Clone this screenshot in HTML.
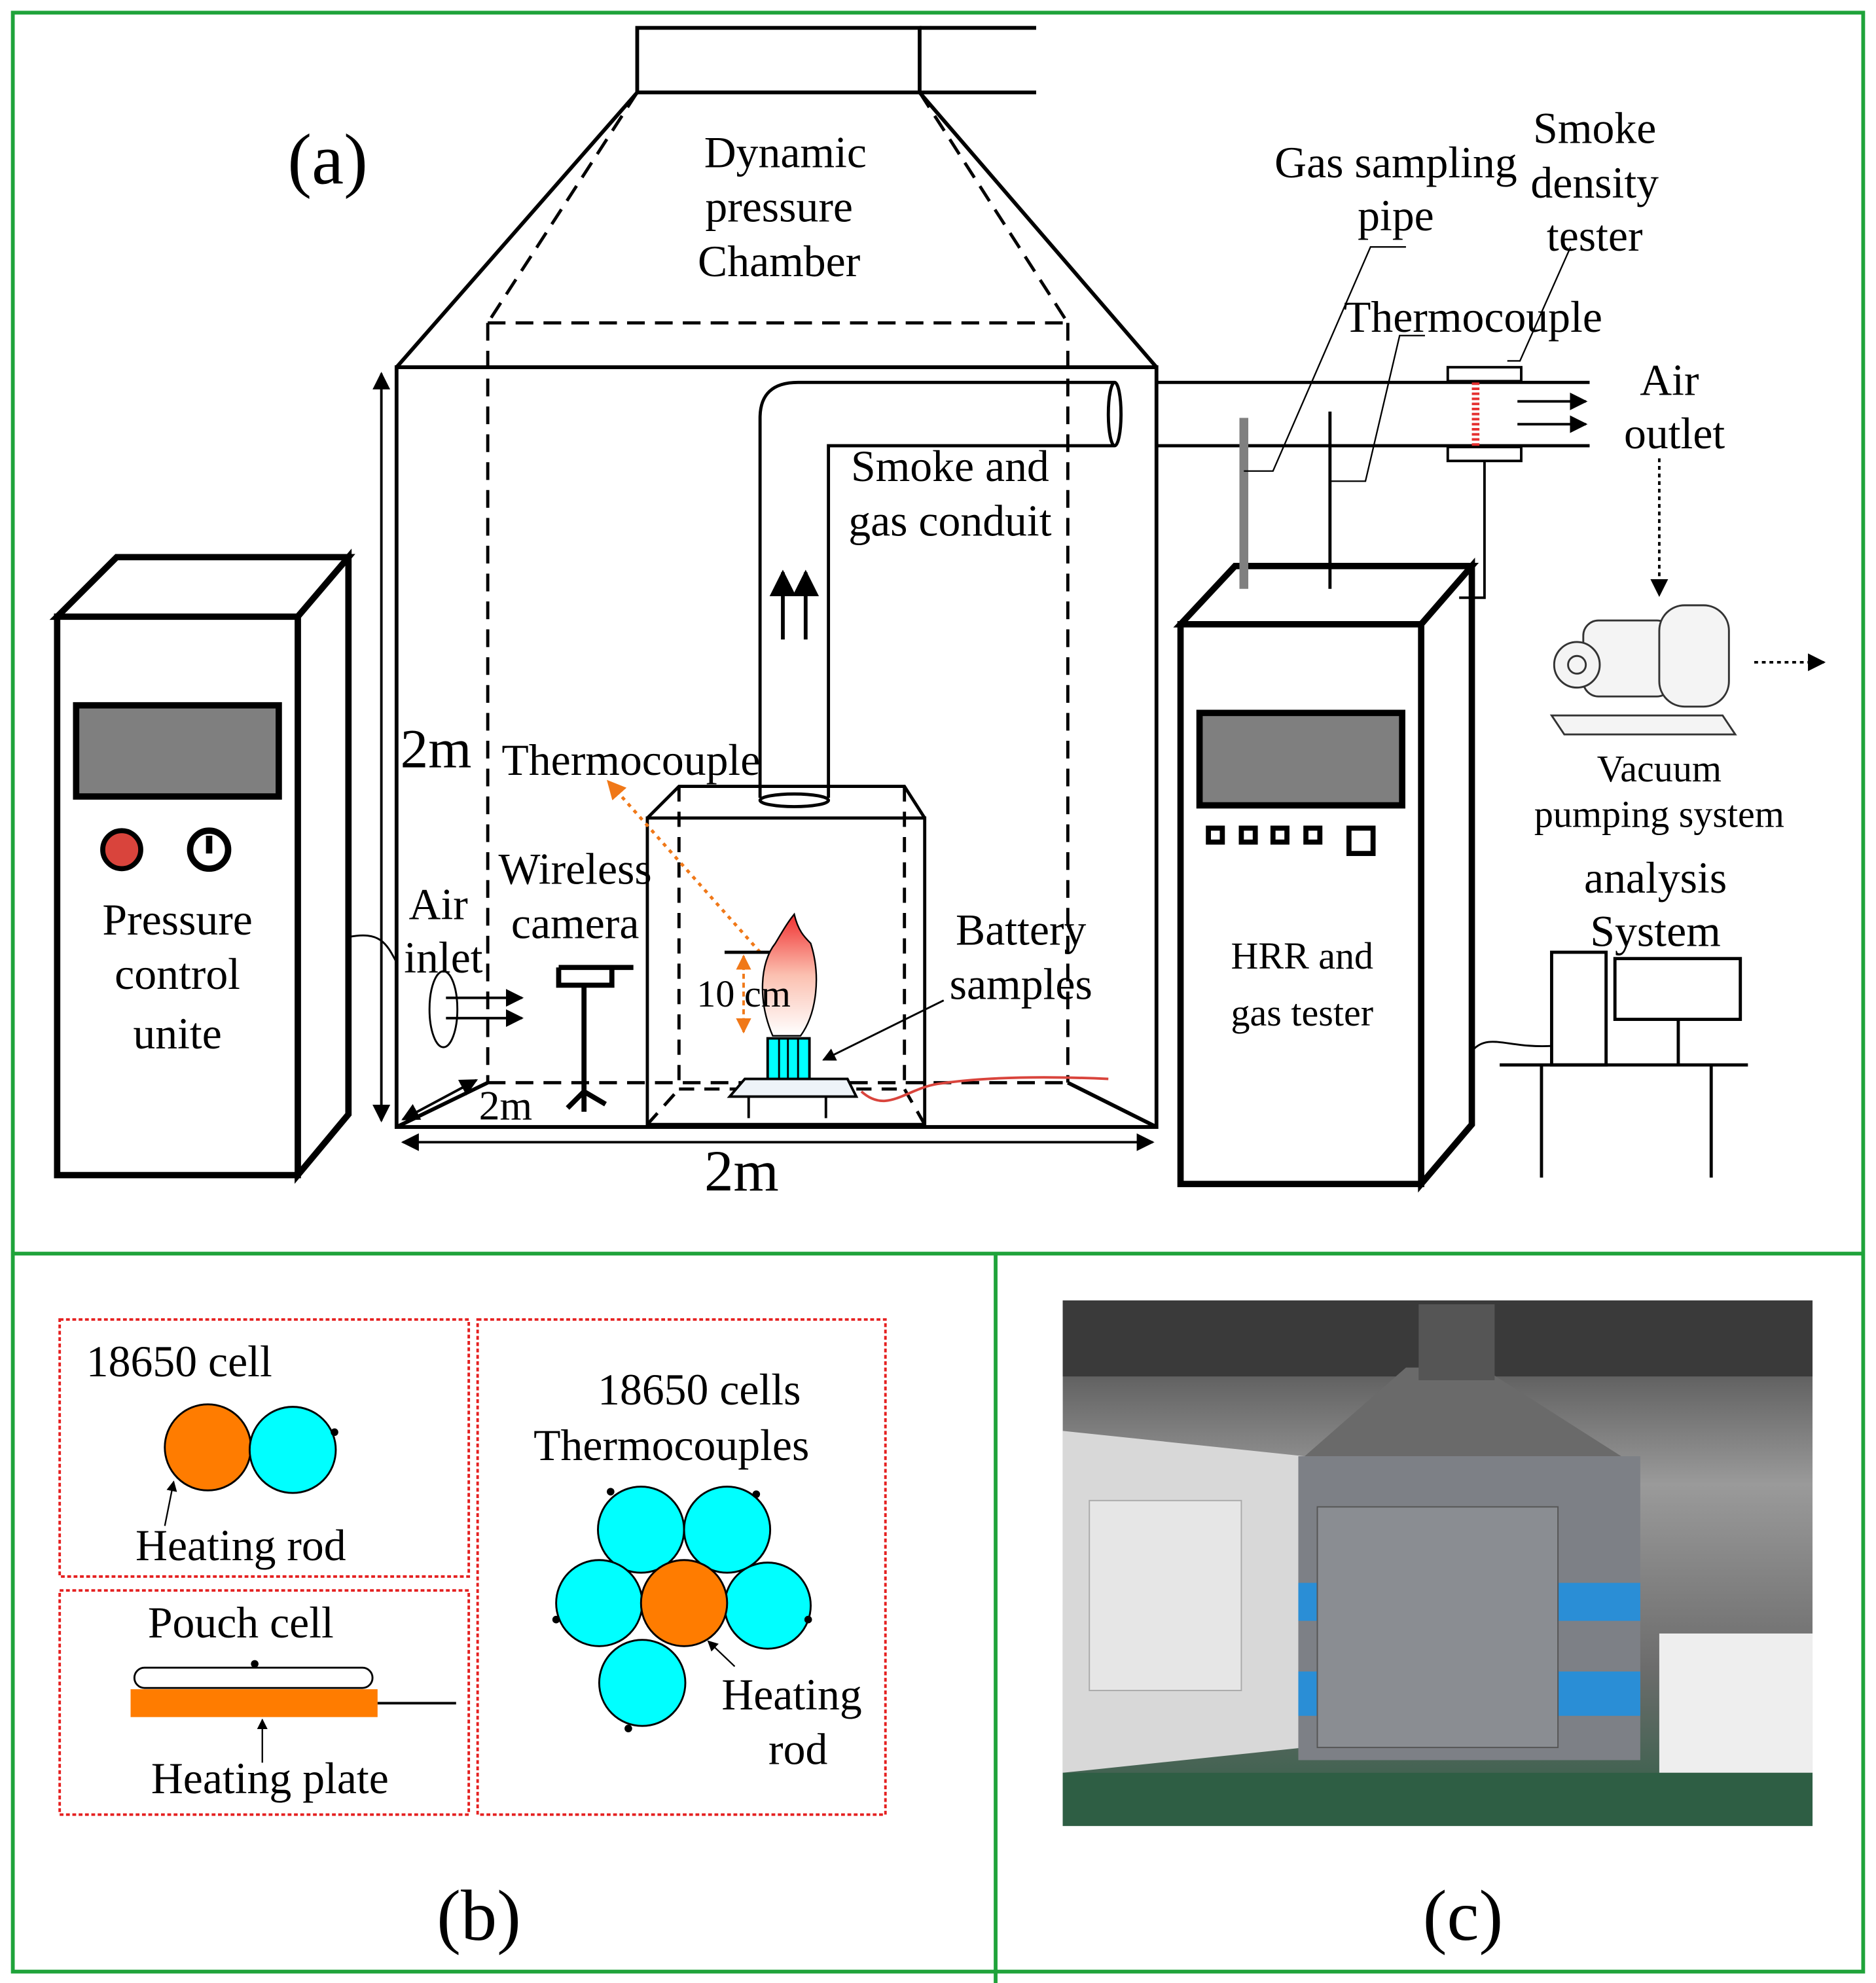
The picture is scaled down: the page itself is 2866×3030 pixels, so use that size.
<!DOCTYPE html>
<html><head><meta charset="utf-8"><style>
html,body{margin:0;padding:0;background:#fff}
svg{display:block}
text{font-family:"Liberation Serif",serif;fill:#000}
</style></head><body>
<svg width="2866" height="3030" viewBox="0 0 1481 1566" xmlns="http://www.w3.org/2000/svg">
<defs>
<marker id="ah" viewBox="0 0 10 10" refX="9" refY="5" markerWidth="7" markerHeight="7" orient="auto-start-reverse"><path d="M0,0L10,5L0,10z" fill="#000"/></marker>
<marker id="ao" viewBox="0 0 10 10" refX="9" refY="5" markerWidth="6" markerHeight="6" orient="auto-start-reverse"><path d="M0,0L10,5L0,10z" fill="#f07818"/></marker>
<linearGradient id="fl" x1="0" y1="0" x2="0" y2="1"><stop offset="0" stop-color="#f03030"/><stop offset="0.5" stop-color="#fbc0b0"/><stop offset="1" stop-color="#fff"/></linearGradient>
<linearGradient id="ph" x1="0" y1="0" x2="0" y2="1"><stop offset="0" stop-color="#3a3a3a"/><stop offset="0.35" stop-color="#9a9a9a"/><stop offset="0.7" stop-color="#6c6c6c"/><stop offset="1" stop-color="#2f5e45"/></linearGradient>
</defs>
<g fill="none" stroke="#1fa33a" stroke-width="3">
<rect x="10" y="10" width="1461" height="1547"/>
<line x1="10" y1="990" x2="1471" y2="990"/>
<line x1="786" y1="990" x2="786" y2="1566"/>
</g>
<text x="227" y="145" font-size="57">(a)</text>
<g fill="none" stroke="#000" stroke-width="3">
<rect x="503" y="22" width="223" height="51"/>
<line x1="726" y1="22" x2="818" y2="22"/><line x1="726" y1="73" x2="818" y2="73"/>
<line x1="503" y1="73" x2="313" y2="290"/><line x1="726" y1="73" x2="913" y2="290"/>
<rect x="313" y="290" width="600" height="600"/>
<line x1="313" y1="890" x2="385" y2="855"/><line x1="913" y1="890" x2="843" y2="855"/>
</g>
<g fill="none" stroke="#000" stroke-width="2.5" stroke-dasharray="14,8">
<line x1="503" y1="73" x2="385" y2="255"/><line x1="726" y1="73" x2="843" y2="255"/>
<line x1="385" y1="255" x2="843" y2="255"/>
<line x1="385" y1="255" x2="385" y2="855"/><line x1="843" y1="255" x2="843" y2="855"/>
<line x1="385" y1="855" x2="843" y2="855"/>
</g>
<text x="620" y="132" font-size="35" text-anchor="middle">Dynamic</text>
<text x="615" y="175" font-size="35" text-anchor="middle">pressure</text>
<text x="615" y="218" font-size="35" text-anchor="middle">Chamber</text>
<g stroke="#000" stroke-width="2" fill="none">
<line x1="301" y1="295" x2="301" y2="885" marker-start="url(#ah)" marker-end="url(#ah)"/>
<line x1="318" y1="902" x2="910" y2="902" marker-start="url(#ah)" marker-end="url(#ah)"/>
<line x1="318" y1="884" x2="376" y2="853" marker-start="url(#ah)" marker-end="url(#ah)"/>
</g>
<text x="316" y="606" font-size="44">2m</text>
<text x="378" y="884" font-size="33">2m</text>
<text x="556" y="940" font-size="46">2m</text>
<g fill="none" stroke="#000" stroke-width="2.5">
<path d="M600,630 L600,330 Q600,302 630,302 L880,302"/>
<path d="M654,630 L654,352 L880,352"/>
<ellipse cx="880" cy="327" rx="5" ry="25"/>
<ellipse cx="627" cy="632" rx="27" ry="5"/>
<line x1="913" y1="302" x2="1255" y2="302"/><line x1="913" y1="352" x2="1255" y2="352"/>
</g>
<g stroke="#000" stroke-width="2"><line x1="618" y1="505" x2="618" y2="452" marker-end="url(#ah)" stroke-width="3"/><line x1="636" y1="505" x2="636" y2="452" marker-end="url(#ah)" stroke-width="3"/></g>
<text x="750" y="380" font-size="35" text-anchor="middle">Smoke and</text>
<text x="750" y="423" font-size="35" text-anchor="middle">gas conduit</text>
<g fill="none" stroke="#000" stroke-width="2.5">
<rect x="511" y="646" width="219" height="242"/>
<path d="M511,646 L536,621 L714,621 L730,646"/>
<path d="M536,621 L536,860 M714,621 L714,860 M536,860 L714,860 M511,888 L536,860 M730,888 L714,860" stroke-dasharray="12,8"/>
</g>
<text x="396" y="612" font-size="35">Thermocouple</text>
<line x1="600" y1="752" x2="480" y2="617" stroke="#f07818" stroke-width="2.5" stroke-dasharray="3,4" marker-end="url(#ao)"/>
<line x1="572" y1="752" x2="619" y2="752" stroke="#000" stroke-width="2.5"/>
<line x1="587" y1="755" x2="587" y2="815" stroke="#f07818" stroke-width="2" stroke-dasharray="4,3" marker-start="url(#ao)" marker-end="url(#ao)"/>
<path d="M610,818 C598,790 600,760 612,745 C618,735 622,728 627,722 C630,735 635,740 640,745 C648,770 645,800 632,818 Z" fill="url(#fl)" stroke="#000" stroke-width="1.2"/>
<text x="550" y="795" font-size="30">10 cm</text>
<rect x="606" y="820" width="33" height="38" fill="#00ffff" stroke="#000" stroke-width="2"/>
<line x1="615" y1="820" x2="615" y2="858" stroke="#000" stroke-width="1.5"/><line x1="622" y1="820" x2="622" y2="858" stroke="#000" stroke-width="1.5"/><line x1="630" y1="820" x2="630" y2="858" stroke="#000" stroke-width="1.5"/>
<path d="M588,852 L669,852 L676,866 L576,866 Z" fill="#eef3f8" stroke="#000" stroke-width="2"/>
<path d="M591,866 L591,883 M652,866 L652,883" stroke="#000" stroke-width="2"/>
<path d="M680,862 C700,880 715,860 740,856 C780,850 830,850 875,852" fill="none" stroke="#d9443c" stroke-width="2"/>
<line x1="745" y1="790" x2="650" y2="837" stroke="#000" stroke-width="1.5" marker-end="url(#ah)"/>
<text x="806" y="746" font-size="35" text-anchor="middle">Battery</text>
<text x="806" y="789" font-size="35" text-anchor="middle">samples</text>
<text x="454" y="698" font-size="35" text-anchor="middle">Wireless</text>
<text x="454" y="741" font-size="35" text-anchor="middle">camera</text>
<g stroke="#000" stroke-width="4" fill="none"><path d="M441,764 L500,764 M441,764 L441,778 L483,778 L483,764 M461,778 L461,865 M448,875 L461,862 L478,872 M461,862 L461,878"/></g>
<text x="346" y="726" font-size="35" text-anchor="middle">Air</text>
<text x="350" y="768" font-size="35" text-anchor="middle">inlet</text>
<ellipse cx="350" cy="797" rx="11" ry="30" fill="none" stroke="#000" stroke-width="1.5"/>
<g stroke="#000" stroke-width="2"><line x1="352" y1="788" x2="412" y2="788" marker-end="url(#ah)"/><line x1="352" y1="804" x2="412" y2="804" marker-end="url(#ah)"/></g>
<g fill="#fff" stroke="#000" stroke-width="5">
<path d="M45,487 L92,440 L275,440 L235,487 Z"/>
<path d="M235,487 L275,440 L275,880 L235,928 Z"/>
<rect x="45" y="487" width="190" height="441"/>
</g>
<rect x="60" y="557" width="160" height="72" fill="#7f7f7f" stroke="#000" stroke-width="5"/>
<circle cx="96" cy="671" r="15" fill="#d9443c" stroke="#000" stroke-width="4"/>
<circle cx="165" cy="671" r="15" fill="#fff" stroke="#000" stroke-width="5"/><line x1="165" y1="660" x2="165" y2="674" stroke="#000" stroke-width="5"/>
<text x="140" y="738" font-size="35" text-anchor="middle">Pressure</text>
<text x="140" y="781" font-size="35" text-anchor="middle">control</text>
<text x="140" y="828" font-size="35" text-anchor="middle">unite</text>
<path d="M275,740 C300,735 305,745 313,760" fill="none" stroke="#000" stroke-width="1.5"/>
<g fill="#fff" stroke="#000" stroke-width="5">
<path d="M932,493 L975,447 L1162,447 L1122,493 Z"/>
<path d="M1122,493 L1162,447 L1162,888 L1122,935 Z"/>
<rect x="932" y="493" width="190" height="442"/>
</g>
<rect x="947" y="563" width="160" height="73" fill="#7f7f7f" stroke="#000" stroke-width="5"/>
<g fill="#fff" stroke="#000" stroke-width="4"><rect x="954" y="654" width="11" height="11"/><rect x="980" y="654" width="11" height="11"/><rect x="1005" y="654" width="11" height="11"/><rect x="1031" y="654" width="11" height="11"/><rect x="1065" y="654" width="19" height="20"/></g>
<text x="1028" y="765" font-size="30" text-anchor="middle">HRR and</text>
<text x="1028" y="810" font-size="30" text-anchor="middle">gas tester</text>
<line x1="982" y1="330" x2="982" y2="465" stroke="#808080" stroke-width="7"/>
<line x1="1050" y1="325" x2="1050" y2="465" stroke="#000" stroke-width="2.5"/>
<path d="M1165,360 L1172,360 L1172,472 L1152,472" fill="none" stroke="#000" stroke-width="2"/>
<rect x="1143" y="290" width="58" height="11" fill="#fff" stroke="#000" stroke-width="2"/>
<rect x="1143" y="353" width="58" height="11" fill="#fff" stroke="#000" stroke-width="2"/>
<line x1="1165" y1="302" x2="1165" y2="352" stroke="#e53030" stroke-width="6" stroke-dasharray="2,2"/>
<g stroke="#000" stroke-width="2"><line x1="1198" y1="317" x2="1252" y2="317" marker-end="url(#ah)"/><line x1="1198" y1="335" x2="1252" y2="335" marker-end="url(#ah)"/></g>
<g fill="none" stroke="#000" stroke-width="1.2">
<path d="M1110,195 L1082,195 L1005,372 L982,372"/>
<path d="M1125,265 L1105,265 L1078,380 L1050,380"/>
<path d="M1240,195 L1200,285 L1190,285"/>
</g>
<text x="1102" y="140" font-size="35" text-anchor="middle">Gas sampling</text>
<text x="1102" y="182" font-size="35" text-anchor="middle">pipe</text>
<text x="1259" y="113" font-size="35" text-anchor="middle">Smoke</text>
<text x="1259" y="156" font-size="35" text-anchor="middle">density</text>
<text x="1259" y="198" font-size="35" text-anchor="middle">tester</text>
<text x="1163" y="262" font-size="35" text-anchor="middle">Thermocouple</text>
<text x="1318" y="312" font-size="35" text-anchor="middle">Air</text>
<text x="1322" y="354" font-size="35" text-anchor="middle">outlet</text>
<line x1="1310" y1="362" x2="1310" y2="470" stroke="#000" stroke-width="2" stroke-dasharray="3,3" marker-end="url(#ah)"/>
<g fill="#f4f4f4" stroke="#333" stroke-width="1.5">
<path d="M1225,565 L1360,565 L1370,580 L1235,580 Z"/>
<rect x="1250" y="490" width="70" height="60" rx="12"/>
<rect x="1310" y="478" width="55" height="80" rx="20"/>
<circle cx="1245" cy="525" r="18"/><circle cx="1245" cy="525" r="7"/>
</g>
<line x1="1385" y1="523" x2="1440" y2="523" stroke="#000" stroke-width="2" stroke-dasharray="3,3" marker-end="url(#ah)"/>
<text x="1310" y="617" font-size="30" text-anchor="middle">Vacuum</text>
<text x="1310" y="653" font-size="30" text-anchor="middle">pumping system</text>
<text x="1307" y="705" font-size="35" text-anchor="middle">analysis</text>
<text x="1307" y="747" font-size="35" text-anchor="middle">System</text>
<g fill="none" stroke="#000" stroke-width="2.5">
<rect x="1225" y="752" width="43" height="89"/>
<rect x="1275" y="757" width="99" height="48"/>
<line x1="1325" y1="805" x2="1325" y2="841"/>
<line x1="1184" y1="841" x2="1380" y2="841"/>
<line x1="1217" y1="841" x2="1217" y2="930"/><line x1="1351" y1="841" x2="1351" y2="930"/>
</g>
<path d="M1162,830 C1175,815 1190,828 1225,826" fill="none" stroke="#000" stroke-width="1.5"/>
<g fill="none" stroke="#e52020" stroke-width="2" stroke-dasharray="3,2">
<rect x="47" y="1042" width="323" height="203"/>
<rect x="47" y="1256" width="323" height="177"/>
<rect x="377" y="1042" width="322" height="391"/>
</g>
<text x="68" y="1087" font-size="35">18650 cell</text>
<circle cx="164" cy="1143" r="34" fill="#ff7c00" stroke="#000" stroke-width="1.5"/>
<circle cx="231" cy="1145" r="34" fill="#00ffff" stroke="#000" stroke-width="1.5"/>
<circle cx="264" cy="1131" r="3"/>
<line x1="130" y1="1205" x2="137" y2="1170" stroke="#000" stroke-width="1.2" marker-end="url(#ah)"/>
<text x="190" y="1232" font-size="35" text-anchor="middle">Heating rod</text>
<text x="190" y="1293" font-size="35" text-anchor="middle">Pouch cell</text>
<rect x="106" y="1317" width="188" height="16" rx="8" fill="#fff" stroke="#000" stroke-width="1.5"/>
<circle cx="201" cy="1314" r="3"/>
<rect x="103" y="1334" width="195" height="22" fill="#ff7c00"/>
<line x1="298" y1="1345" x2="360" y2="1345" stroke="#000" stroke-width="2"/>
<line x1="207" y1="1392" x2="207" y2="1358" stroke="#000" stroke-width="1.2" marker-end="url(#ah)"/>
<text x="213" y="1416" font-size="35" text-anchor="middle">Heating plate</text>
<text x="552" y="1109" font-size="35" text-anchor="middle">18650 cells</text>
<text x="530" y="1153" font-size="35" text-anchor="middle">Thermocouples</text>
<g stroke="#000" stroke-width="1.5" fill="#00ffff">
<circle cx="506" cy="1208" r="34"/><circle cx="574" cy="1208" r="34"/>
<circle cx="473" cy="1266" r="34"/><circle cx="606" cy="1268" r="34"/>
<circle cx="507" cy="1329" r="34"/>
<circle cx="540" cy="1266" r="34" fill="#ff7c00"/>
</g>
<g fill="#000"><circle cx="482" cy="1178" r="3"/><circle cx="597" cy="1180" r="3"/><circle cx="439" cy="1279" r="3"/><circle cx="638" cy="1279" r="3"/><circle cx="496" cy="1365" r="3"/></g>
<line x1="580" y1="1316" x2="559" y2="1296" stroke="#000" stroke-width="1.2" marker-end="url(#ah)"/>
<text x="625" y="1350" font-size="35" text-anchor="middle">Heating</text>
<text x="630" y="1393" font-size="35" text-anchor="middle">rod</text>
<text x="378" y="1532" font-size="57" text-anchor="middle">(b)</text>
<rect x="839" y="1027" width="592" height="415" fill="url(#ph)"/>
<rect x="839" y="1027" width="592" height="60" fill="#3a3a3a"/>
<path d="M839,1130 L1030,1150 L1030,1380 L839,1400 Z" fill="#d8d8d8"/>
<rect x="860" y="1185" width="120" height="150" fill="#e6e6e6" stroke="#aaa"/>
<path d="M1030,1150 L1110,1080 L1170,1080 L1280,1150 Z" fill="#6a6a6a"/>
<rect x="1025" y="1150" width="270" height="240" fill="#7d8086"/>
<rect x="1025" y="1250" width="270" height="30" fill="#2a8ed6"/>
<rect x="1025" y="1320" width="270" height="35" fill="#2a8ed6"/>
<rect x="1040" y="1190" width="190" height="190" fill="#8a8d92" stroke="#555"/>
<rect x="1310" y="1290" width="121" height="110" fill="#eee"/>
<rect x="839" y="1400" width="592" height="42" fill="#2e5e44"/>
<rect x="1120" y="1030" width="60" height="60" fill="#555"/>
<text x="1155" y="1532" font-size="57" text-anchor="middle">(c)</text>
</svg>
</body></html>
